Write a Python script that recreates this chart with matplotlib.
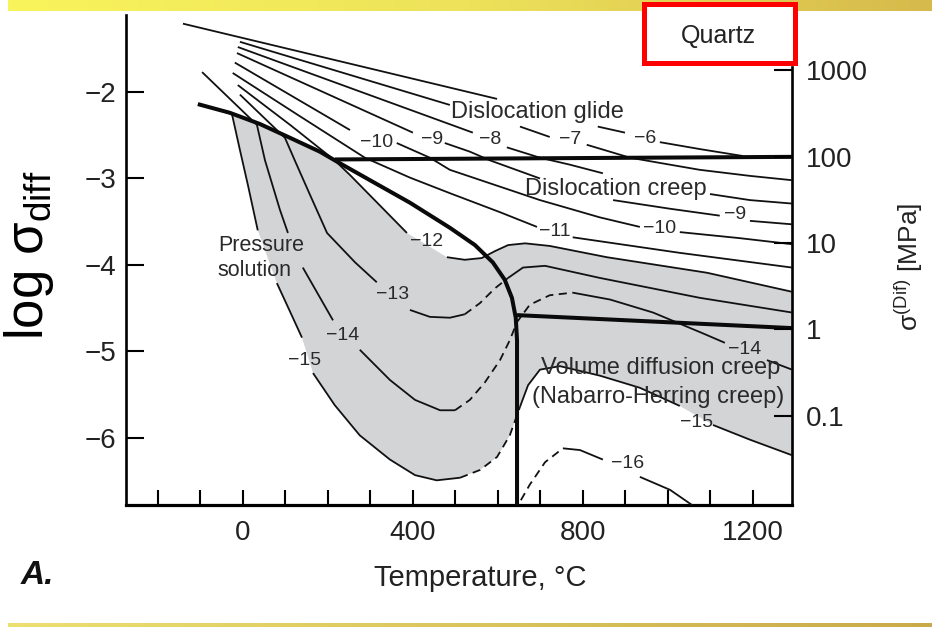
import numpy as np
import matplotlib.pyplot as plt
from matplotlib.colors import LinearSegmentedColormap
from matplotlib.patches import Rectangle

plt.rcParams['font.family'] = ['Liberation Sans', 'DejaVu Sans']
plt.rcParams['mathtext.fontset'] = 'custom'
plt.rcParams['mathtext.rm'] = 'Liberation Sans'
plt.rcParams['mathtext.it'] = 'Liberation Sans:italic'

nan = np.nan

# axes
temp_ticks = list(range(-200, 1201, 100))
temp_labels = [str(t) if t % 400 == 0 and t >= 0 else '' for t in temp_ticks]
log_ticks = [-2, -3, -4, -5, -6]
log_labels = ['\u22122', '\u22123', '\u22124', '\u22125', '\u22126']
mpa_ticks = [1000, 100, 10, 1, 0.1]
mpa_labels = ['1000', '100', '10', '1', '0.1']
log_offset = 4.746  # log10(MPa) minus log sigma_diff

# field boundaries (T in C, log sigma_diff)
glide_ps_T = [-106, -31, 40, 111, 181, 216, 299, 393, 487, 546, 588, 616, 633, 642, 645, 645]
glide_ps_L = [-2.14, -2.24, -2.37, -2.53, -2.69, -2.79, -3.02, -3.28, -3.57, -3.77, -3.97,
              -4.17, -4.38, -4.61, -4.87, -6.80]
glide_creep_T = [216, 1292]
glide_creep_L = [-2.78, -2.75]
creep_nh_T = [645, 1292]
creep_nh_L = [-4.58, -4.73]

# strain-rate contours, log(1/s); nan = gap for a label
c6_T = [-141, 598, nan, 835, 899, nan, 981, 1075, 1176]
c6_L = [-1.21, -2.08, nan, -2.40, -2.47, nan, -2.58, -2.66, -2.74]
c7_T = [-7, 487, nan, 652, 722, nan, 809, 911, 981, 1075, 1193, 1292]
c7_L = [-1.42, -2.15, nan, -2.40, -2.52, nan, -2.61, -2.76, -2.82, -2.90, -2.97, -3.02]
c8_T = [-12, 541, nan, 621, 699, 769, 847, nan, 1099, 1193, 1292]
c8_L = [-1.48, -2.47, nan, -2.64, -2.76, -2.84, -2.94, nan, -3.18, -3.25, -3.29]
c9_T = [-14, 400, nan, 475, 534, 581, 699, nan, 871, 1005, 1122, nan, 1193, 1292]
c9_L = [-1.55, -2.47, nan, -2.59, -2.69, -2.79, -3.00, nan, -3.25, -3.35, -3.43, nan, -3.49, -3.53]
c10_T = [-19, 252, nan, 362, 440, 487, 699, 840, 934, nan, 1028, 1169, 1292]
c10_L = [-1.66, -2.44, nan, -2.59, -2.76, -2.90, -3.25, -3.45, -3.56, nan, -3.62, -3.69, -3.76]
c11_T = [-24, 134, 287, 393, 487, 605, 692, nan, 776, 1028, 1292]
c11_L = [-1.78, -2.28, -2.76, -2.99, -3.17, -3.39, -3.56, nan, -3.68, -3.86, -4.03]
c12_T = [-12, 111, 216, 252, 322, 386, nan, 480, 522, 562, 593, 624, 664, 722, 856, 1092, 1292]
c12_L = [-1.92, -2.38, -2.79, -2.96, -3.31, -3.63, nan, -3.91, -3.94, -3.92, -3.84, -3.77,
         -3.75, -3.78, -3.91, -4.09, -4.31]
c13_T = [-7, 99, 122, 158, 198, 264, 315, nan, 393, 440, 487, 522]
c13_L = [-2.03, -2.53, -2.79, -3.19, -3.63, -3.97, -4.20, nan, -4.52, -4.60, -4.61, -4.57]
c13_dash_T = [522, 558, 593, 624]
c13_dash_L = [-4.57, -4.44, -4.27, -4.15]
c13x_T = [624, 659, 711, 840, 1075, 1292]
c13x_L = [-4.15, -4.03, -4.01, -4.15, -4.38, -4.55]
c14_T = [-96, 33, 52, 87, 106, nan, 141, 212, nan, 275, 346, 405, 464, 499]
c14_L = [-1.77, -2.38, -2.79, -3.36, -3.63, nan, -4.03, -4.64, nan, -4.98, -5.33, -5.56, -5.68, -5.68]
c14_dash_T = [499, 534, 569, 605, 628, 645, 675, 722, 776]
c14_dash_L = [-5.68, -5.56, -5.36, -5.10, -4.87, -4.66, -4.46, -4.35, -4.32]
c14x_T = [776, 864, 965, 1082, 1134, nan, 1233, 1292]
c14x_L = [-4.32, -4.40, -4.55, -4.79, -4.90, nan, -5.10, -5.21]
c15_T = [-26, -7, 12, 35, nan, 80, 111, 139, nan, 165, 216, 275, 346, 405, 456, 511]
c15_L = [-2.25, -2.67, -3.08, -3.60, nan, -4.21, -4.54, -4.84, nan, -5.25, -5.62, -5.97,
         -6.25, -6.43, -6.49, -6.46]
c15_dash_T = [511, 558, 598, 628, 652]
c15_dash_L = [-6.46, -6.37, -6.22, -5.97, -5.64]
c15x_T = [652, 671, 699, 746, 840, 934, 1028, nan, 1106, 1193, 1292]
c15x_L = [-5.64, -5.39, -5.21, -5.17, -5.28, -5.42, -5.63, nan, -5.85, -6.02, -6.20]
c16_dash_T = [654, 675, 711, 753]
c16_dash_L = [-6.72, -6.54, -6.28, -6.12]
c16_T = [753, 793, 847, nan, 934, 1005, 1064]
c16_L = [-6.12, -6.14, -6.25, nan, -6.45, -6.60, -6.80]

rate_labels = ['\u22126', '\u22127', '\u22128', '\u22129', '\u221210', '\u22129', '\u221210',
               '\u221211', '\u221212', '\u221213', '\u221214', '\u221215', '\u221214',
               '\u221215', '\u221216']
rate_label_T = [946, 769, 581, 445, 315, 1158, 981, 734, 433, 353, 235, 146, 1181, 1068, 904]
rate_label_L = [-2.54, -2.55, -2.55, -2.55, -2.58, -3.42, -3.58, -3.61, -3.73, -4.34, -4.81,
                -5.10, -4.98, -5.82, -6.29]

field_names = ['Dislocation glide', 'Dislocation creep', 'Volume diffusion creep',
               '(Nabarro-Herring creep)']
field_T = [694, 878, 984, 977]
field_L = [-2.23, -3.12, -5.19, -5.53]


def pts(T, L):
    T = np.asarray(T, float)
    L = np.asarray(L, float)
    ok = ~np.isnan(T)
    return T[ok], L[ok]


fig = plt.figure(figsize=(9.32, 6.28), dpi=100)
ax = fig.add_axes([0.1352, 0.1959, 0.7146, 0.7802])
ax.set_xlim(-275, 1292)
ax.set_ylim(-6.775, -1.11)

# grey field: between the -12 and -15 contours
gT, gL = pts(glide_ps_T[2:6], glide_ps_L[2:6])
t12, l12 = pts(c12_T[3:], c12_L[3:])
t15, l15 = pts(c15_T + c15_dash_T + c15x_T, c15_L + c15_dash_L + c15x_L)
poly_T = np.concatenate([[t15[0]], gT, t12, t15[::-1]])
poly_L = np.concatenate([[l15[0]], gL, l12, l15[::-1]])
ax.fill(poly_T, poly_L, color='#d3d4d6', lw=0, zorder=1)

thin = dict(color='#111111', lw=1.3, zorder=3, solid_capstyle='butt')
dash = dict(color='#111111', lw=1.3, zorder=3, ls=(0, (4.5, 3)))
for T, L in [(c6_T, c6_L), (c7_T, c7_L), (c8_T, c8_L), (c9_T, c9_L), (c10_T, c10_L),
             (c11_T, c11_L), (c12_T, c12_L), (c13_T, c13_L), (c13x_T, c13x_L),
             (c14_T, c14_L), (c14x_T, c14x_L), (c15_T, c15_L), (c15x_T, c15x_L),
             (c16_T, c16_L)]:
    ax.plot(T, L, **thin)
for T, L in [(c13_dash_T, c13_dash_L), (c14_dash_T, c14_dash_L),
             (c15_dash_T, c15_dash_L), (c16_dash_T, c16_dash_L)]:
    ax.plot(T, L, **dash)

thick = dict(color='#0a0a0a', lw=2.9, zorder=4, solid_capstyle='butt')
ax.plot(glide_ps_T, glide_ps_L, **thick)
ax.plot(glide_creep_T, glide_creep_L, **thick)
ax.plot(creep_nh_T, creep_nh_L, **thick)

for s, T, L in zip(rate_labels, rate_label_T, rate_label_L):
    ax.text(T, L, s, ha='center', va='center', fontsize=14, color='#2a2a2a', zorder=5)
for s, T, L in zip(field_names, field_T, field_L):
    ax.text(T, L, s, ha='center', va='center', fontsize=17, color='#2a2a2a', zorder=5)
ax.text(-59, -3.92, 'Pressure\nsolution', ha='left', va='center', fontsize=15.5,
        color='#2a2a2a', linespacing=1.2, zorder=5)

# spines and ticks
ax.spines['top'].set_visible(False)
ax.spines['left'].set_linewidth(1.9)
ax.spines['bottom'].set_linewidth(2.3)
ax.spines['right'].set_linewidth(1.9)
ax.spines['right'].set_bounds(-6.775, -1.71)
ax.set_xticks(temp_ticks)
ax.set_xticklabels(temp_labels)
ax.set_yticks(log_ticks)
ax.set_yticklabels(log_labels)
ax.tick_params(axis='x', direction='in', length=11, width=1.5, pad=11, labelsize=20,
               labelcolor='#222222')
ax.tick_params(axis='y', direction='in', length=13, width=1.5, pad=7, labelsize=20,
               labelcolor='#222222')

ax2 = ax.twinx()
ax2.set_ylim(ax.get_ylim())
ax2.set_yticks(np.log10(mpa_ticks) - log_offset)
ax2.set_yticklabels(mpa_labels)
for s in ax2.spines.values():
    s.set_visible(False)
ax2.tick_params(axis='y', direction='in', length=13, width=1.5, pad=10, labelsize=20,
                labelcolor='#222222')

fig.text(0.515, 0.080, 'Temperature, \u00b0C', ha='center', va='center', fontsize=21,
         color='#222222')
fig.text(0.022, 0.084, 'A.', ha='left', va='center', fontsize=24, fontweight='bold',
         fontstyle='italic', color='#111111')
fig.text(0.031, 0.594, 'log \u03c3$_{\\mathrm{diff}}$', rotation=90, ha='center', va='center',
         fontsize=38, color='black')
fig.text(0.975, 0.575, '\u03c3$^{(\\mathrm{Dif})}$ [MPa]', rotation=90, ha='center',
         va='center', fontsize=19, color='#222222')

# title box
fig.add_artist(Rectangle((0.6905, 0.8995), 0.163, 0.094, transform=fig.transFigure,
                         facecolor='white', edgecolor='#ff0000', lw=3.6, zorder=5))
fig.text(0.771, 0.943, 'Quartz', ha='center', va='center', fontsize=18, color='#222222',
         zorder=6)

# slide bands
band = LinearSegmentedColormap.from_list('band', ['#f9f45c', '#ede25a', '#d6ba4c'])
grad = np.linspace(0, 1, 256).reshape(1, -1)
top = fig.add_axes([0.0086, 0.9825, 0.9914, 0.0175])
top.imshow(grad, aspect='auto', cmap=band)
top.axis('off')
line = LinearSegmentedColormap.from_list('line', ['#ece070', '#c9aa4a'])
bot = fig.add_axes([0.0086, 0.0016, 0.9914, 0.0064])
bot.imshow(grad, aspect='auto', cmap=line)
bot.axis('off')

fig.savefig('out.png', dpi=100)
